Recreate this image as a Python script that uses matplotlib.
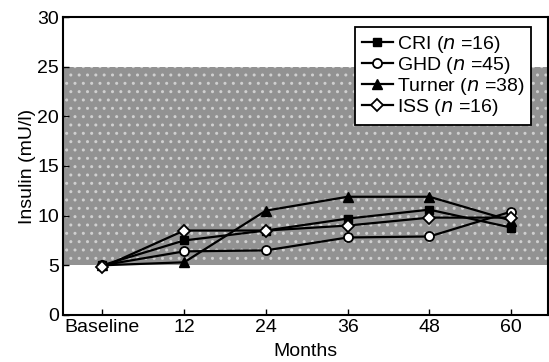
import matplotlib
matplotlib.use('Agg')
import matplotlib.pyplot as plt

plt.rcParams['font.family'] = ['Liberation Sans', 'DejaVu Sans']

# Data
months = ['Baseline', '12', '24', '36', '48', '60']
cri = [5.0, 7.5, 8.5, 9.7, 10.6, 8.8]
ghd = [5.0, 6.4, 6.5, 7.8, 7.9, 10.4]
turner = [5.0, 5.3, 10.5, 11.9, 11.9, 9.5]
iss = [4.8, 8.5, 8.5, 9.0, 9.8, 9.8]

labels = ['CRI ($n$ =16)', 'GHD ($n$ =45)', 'Turner ($n$ =38)', 'ISS ($n$ =16)']

fig = plt.figure(figsize=(5.49, 3.62), dpi=100)
ax = fig.add_axes([0.115, 0.13, 0.883, 0.823])

x = list(range(len(months)))

# normal range band
ax.axhspan(5, 25, facecolor='#929292', edgecolor='#d0d0d0', hatch='..', linewidth=0, zorder=0)

ax.plot(x, cri, color='black', lw=1.6, marker='s', ms=6, mfc='black', mec='black', label=labels[0], zorder=3)
ax.plot(x, ghd, color='black', lw=1.6, marker='o', ms=6.5, mfc='white', mec='black', mew=1.3, label=labels[1], zorder=3)
ax.plot(x, turner, color='black', lw=1.6, marker='^', ms=6.5, mfc='black', mec='black', label=labels[2], zorder=3)
ax.plot(x, iss, color='black', lw=1.6, marker='D', ms=6, mfc='white', mec='black', mew=1.3, label=labels[3], zorder=4)

ax.set_xlim(-0.48, 5.45)
ax.set_ylim(0, 30)
ax.set_xticks(x)
ax.set_xticklabels(months)
ax.set_yticks([0, 5, 10, 15, 20, 25, 30])
ax.tick_params(direction='in', labelsize=14, length=4, width=1, pad=3)
for s in ax.spines.values():
    s.set_linewidth(1.5)

ax.set_xlabel('Months', fontsize=14, labelpad=5)
ax.set_ylabel('Insulin (mU/l)', fontsize=14, labelpad=1)

leg = ax.legend(loc='upper right', bbox_to_anchor=(0.965, 0.965), fontsize=14, frameon=True,
                fancybox=False, edgecolor='black', framealpha=1, handlelength=1.6,
                handletextpad=0.2, borderpad=0.35, labelspacing=0.0, borderaxespad=0)
leg.get_frame().set_linewidth(1.3)

fig.savefig('out.png', dpi=100)
